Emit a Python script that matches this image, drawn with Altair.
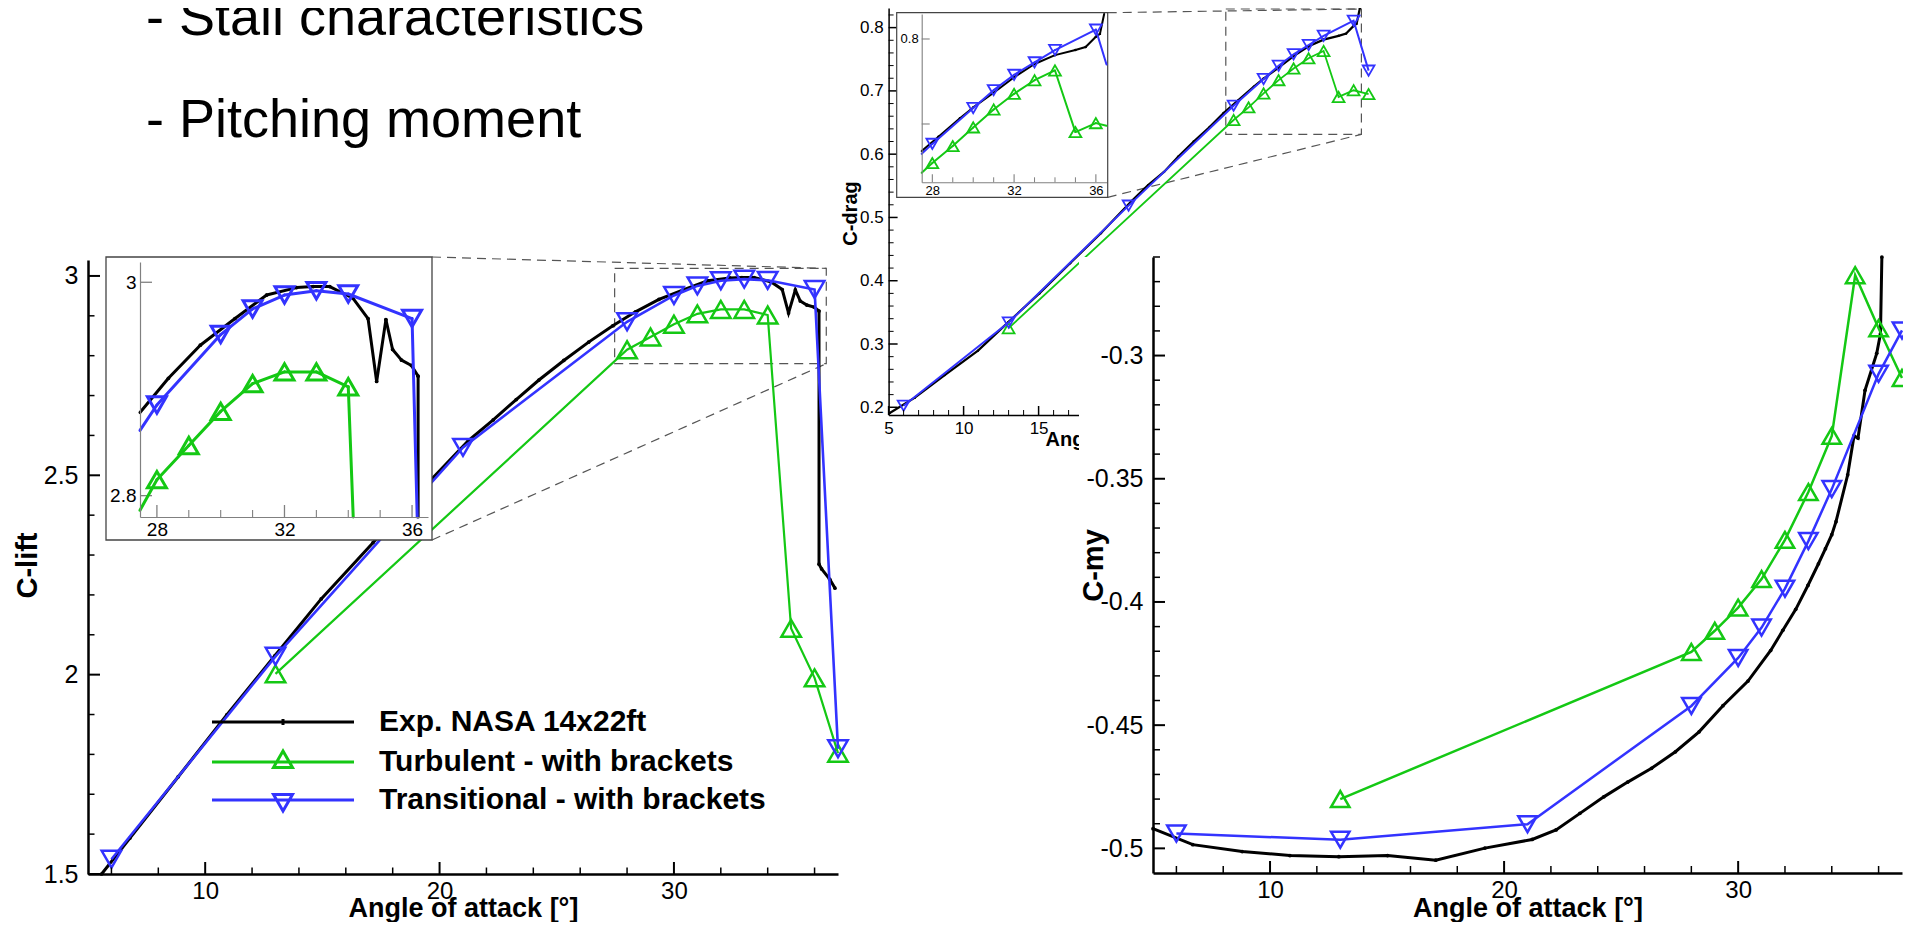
import altair as alt
import pandas as pd

FONT = "Liberation Sans"
SERIES = ["Exp. NASA 14x22ft", "Turbulent - with brackets", "Transitional - with brackets"]
COLORS = ["#000000", "#14c814", "#3333ff"]
LEG_PATHS = [
    "M-7.1,0H7.1M0,-0.3V0.3",
    "M-7.1,0H7.1M0,-1.1L0.95,0.55L-0.95,0.55Z",
    "M-7.1,0H7.1M0,1.1L0.95,-0.55L-0.95,-0.55Z",
]
BULLETS = ["- Stall characteristics", "- Pitching moment"]
X_TITLE = "Angle of attack [°]"

# ---------------- data ----------------
TURB_A = [13, 28, 29, 30, 31, 32, 33, 34, 35, 36, 37]
TRANS_A = [6, 13, 21, 28, 30, 31, 32, 33, 34, 36, 37]

TURB_CL = [2.002, 2.815, 2.847, 2.879, 2.905, 2.916, 2.916, 2.902, 2.116, 1.992, 1.803]
TRANS_CL = [1.537, 2.046, 2.570, 2.885, 2.951, 2.975, 2.988, 2.992, 2.989, 2.966, 1.814]
EXP_CL_A = [5.58, 6.79, 8.85, 10.92, 12.98, 14.95, 17.16, 19.2, 21.23, 22.29, 23.27, 24.24,
            25.30, 26.36, 27.39, 28.36, 29.36, 30.45, 31.44, 32.38, 32.9, 33.42, 34.15, 34.62,
            34.89, 35.18, 35.39, 35.67, 35.98, 36.19, 36.19, 36.3, 36.65, 36.87]
EXP_CL = [1.50, 1.59, 1.744, 1.899, 2.048, 2.19, 2.331, 2.462, 2.587, 2.639, 2.690, 2.739,
          2.788, 2.834, 2.875, 2.910, 2.941, 2.966, 2.988, 2.995, 2.996, 2.996, 2.985, 2.966,
          2.907, 2.965, 2.937, 2.927, 2.922, 2.912, 2.277, 2.265, 2.239, 2.217]

TURB_CD = [0.325, 0.654, 0.674, 0.696, 0.717, 0.7355, 0.7515, 0.763, 0.6905, 0.701, 0.695]
TRANS_CD = [0.2025, 0.334, 0.5187, 0.6766, 0.7187, 0.7398, 0.7578, 0.7725, 0.787, 0.811, 0.732]
EXP_CD_A = [5.05, 6.75, 8.74, 10.96, 13.0, 15.05, 17.1, 19.15, 21.2, 22.3, 23.36, 24.3, 25.34,
            26.4, 27.33, 28.3, 29.35, 30.0, 31.0, 32.0, 33.0, 34.0, 35.0, 35.5, 36.0, 36.2, 36.42]
EXP_CD = [0.1905, 0.2152, 0.251, 0.2895, 0.335, 0.380, 0.4276, 0.475, 0.526, 0.551, 0.572,
          0.596, 0.62, 0.643, 0.665, 0.685, 0.7067, 0.7195, 0.7368, 0.755, 0.7706, 0.781,
          0.787, 0.7905, 0.8027, 0.806, 0.831]

TURB_CM = [-0.480, -0.4203, -0.4117, -0.4023, -0.3907, -0.3748, -0.3554, -0.3326, -0.2674,
           -0.2889, -0.3091]
TRANS_CM = [-0.494, -0.4965, -0.4902, -0.4422, -0.4227, -0.4104, -0.3946, -0.3753, -0.3542,
            -0.3074, -0.2898]
EXP_CM_A = [5.0, 6.70, 8.81, 10.85, 12.94, 15.02, 17.08, 19.18, 21.2, 22.22, 23.24, 24.26,
            25.28, 26.3, 27.32, 28.33, 29.35, 30.42, 31.39, 31.91, 32.46, 32.98, 33.43, 33.73,
            34.0, 34.18, 34.68, 34.95, 35.12, 35.42, 35.92, 36.08, 36.14]
EXP_CM = [-0.492, -0.4985, -0.5013, -0.5029, -0.5034, -0.5029, -0.5048, -0.4999, -0.4964,
          -0.4925, -0.4858, -0.4791, -0.4731, -0.4675, -0.4608, -0.4527, -0.4421, -0.4321,
          -0.4197, -0.4115, -0.403, -0.3933, -0.3845, -0.3784, -0.3727, -0.3674, -0.3484,
          -0.3326, -0.3335, -0.3141, -0.2991, -0.2912, -0.2600]

# ---------------- ticks ----------------
CL_X_MAJOR = [10, 20, 30]
CL_X_MINOR = [6, 8, 12, 14, 16, 18, 22, 24, 26, 28, 32, 34, 36]
CL_Y_MAJOR = [1.5, 2.0, 2.5, 3.0]
CL_Y_MINOR = [1.6, 1.7, 1.8, 1.9, 2.1, 2.2, 2.3, 2.4, 2.6, 2.7, 2.8, 2.9]
INS_X_MAJOR = [28, 32, 36]
INS_X_MINOR = [29, 30, 31, 33, 34, 35]
CLI_Y_MAJOR = [2.8, 3.0]
CD_X_MAJOR = [5, 10, 15]
CD_X_MINOR = [6, 7, 8, 9, 11, 12, 13, 14, 16, 17]
CD_Y_MAJOR = [0.2, 0.3, 0.4, 0.5, 0.6, 0.7, 0.8]
CD_Y_MINOR = [round(0.2 + 0.02 * k, 2) for k in range(1, 32) if k % 5]
CDI_Y_TICKS = [0.7, 0.8]
CDI_Y_LABELS = [0.8]
CM_Y_MAJOR = [-0.5, -0.45, -0.4, -0.35, -0.3]
CM_Y_MINOR = [round(-0.51 + 0.01 * k, 2) for k in range(2, 26) if k % 5 != 1]

# ---------------- layout (page pixels; chart = page - margin) ----------------
M = 8
VW, VH = 1895, 914
P = {
    "cl": dict(xd=[5, 37], yd=[1.5, 3.04], px=[88, 838], py=[874, 260]),
    "cli": dict(xd=[27.47, 36.5], yd=[2.78, 3.019], px=[140, 428], py=[517, 262]),
    "cd": dict(xd=[5, 37.2], yd=[0.1878, 0.831], px=[888.6, 1371.6], py=[415, 8]),
    "cdi": dict(xd=[27.48, 36.52], yd=[0.6314, 0.8294], px=[921.7, 1106.5], py=[182.3, 14]),
    "cm": dict(xd=[5, 37], yd=[-0.51, -0.26], px=[1153, 1902], py=[873, 257]),
}


def xs(k):
    p = P[k]
    return alt.Scale(domain=p["xd"], range=[p["px"][0] - M, p["px"][1] - M], nice=False, zero=False)


def ys(k):
    p = P[k]
    return alt.Scale(domain=p["yd"], range=[p["py"][0] - M, p["py"][1] - M], nice=False, zero=False)


def to_data(k, gx, gy):
    p = P[k]
    a = p["xd"][0] + (gx - p["px"][0]) / (p["px"][1] - p["px"][0]) * (p["xd"][1] - p["xd"][0])
    v = p["yd"][0] + (gy - p["py"][0]) / (p["py"][1] - p["py"][0]) * (p["yd"][1] - p["yd"][0])
    return a, v


def base_axis(values, fs, pad, color, width, z, expr):
    return dict(values=values, ticks=False, grid=False, domainColor=color, domainWidth=width,
                labelFont=FONT, labelFontSize=fs, labelColor="black", labelPadding=pad,
                labelFlush=False, labelOverlap=False, labelExpr=expr, zindex=z)


def ax_x(k, values, fs, pad, color="black", width=2.5, z=0, expr="toString(datum.value)",
         title=None, tfs=29, base_y=None):
    kw = base_axis(values, fs, pad, color, width, z, expr)
    kw.update(orient="bottom", offset=(P[k]["py"][0] - M) - VH)
    if title is None:
        kw["title"] = None
    else:
        kw.update(title=title, titleFont=FONT, titleFontSize=tfs, titleFontWeight="bold",
                  titleColor="black", titleAlign="center", titleAngle=0, titleBaseline="alphabetic",
                  titleX=(P[k]["px"][0] + P[k]["px"][1]) / 2 - M, titleY=base_y - P[k]["py"][0])
    return alt.Axis(**kw)


def ax_y(k, values, fs, pad, color="black", width=2.5, z=0, expr="toString(datum.value)",
         title=None, tfs=29, cx=None, cy=None):
    kw = base_axis(values, fs, pad, color, width, z, expr)
    kw.update(orient="left", offset=-(P[k]["px"][0] - M))
    if title is None:
        kw["title"] = None
    else:
        kw.update(title=title, titleFont=FONT, titleFontSize=tfs, titleFontWeight="bold",
                  titleColor="black", titleAlign="center", titleAngle=270, titleBaseline="middle",
                  titleX=cx - P[k]["px"][0], titleY=cy - M)
    return alt.Axis(**kw)


def sdf(a, v):
    return pd.DataFrame({"a": a, "v": v, "i": list(range(len(a)))})


def enc(k, xa, ya, fx="a", fy="v"):
    return (alt.X(f"{fx}:Q", scale=xs(k), axis=xa), alt.Y(f"{fy}:Q", scale=ys(k), axis=ya))


def curves(k, xa, ya, dfs, lw, tri, sw, dot):
    X, Y = enc(k, xa, ya)
    O = alt.Order("i:Q")
    exp_df, turb_df, trans_df = dfs
    return [
        alt.Chart(exp_df).mark_line(color=COLORS[0], strokeWidth=lw[0]).encode(x=X, y=Y, order=O),
        alt.Chart(exp_df).mark_circle(color=COLORS[0], size=dot, opacity=1).encode(x=X, y=Y),
        alt.Chart(turb_df).mark_line(color=COLORS[1], strokeWidth=lw[1]).encode(x=X, y=Y, order=O),
        alt.Chart(turb_df).mark_point(shape="triangle-up", color=COLORS[1], filled=False, size=tri,
                                      strokeWidth=sw, opacity=1).encode(x=X, y=Y),
        alt.Chart(trans_df).mark_line(color=COLORS[2], strokeWidth=lw[2]).encode(x=X, y=Y, order=O),
        alt.Chart(trans_df).mark_point(shape="triangle-down", color=COLORS[2], filled=False, size=tri,
                                       strokeWidth=sw, opacity=1).encode(x=X, y=Y),
    ]


def clipped_line(df, k, xa, ya, color, width):
    """Polyline drawn as segments, clipped to the inset domain by Vega-Lite transforms."""
    x0, x1 = P[k]["xd"]
    y0, y1 = P[k]["yd"]

    def enter(c, d, lo, hi):
        return (f"datum.{d} > 0 ? ({lo} - datum.{c}) / datum.{d} : datum.{d} < 0 ? ({hi} - datum.{c}) / datum.{d} : "
                f"((datum.{c} >= {lo} && datum.{c} <= {hi}) ? -1 : 2)")

    def leave(c, d, lo, hi):
        return (f"datum.{d} > 0 ? ({hi} - datum.{c}) / datum.{d} : datum.{d} < 0 ? ({lo} - datum.{c}) / datum.{d} : "
                f"((datum.{c} >= {lo} && datum.{c} <= {hi}) ? 2 : -1)")

    X, Y = enc(k, xa, ya, "pa", "pv")
    return (alt.Chart(df)
            .transform_window(a1="lead(a)", v1="lead(v)", sort=[alt.SortField("i")])
            .transform_filter("isValid(datum.a1)")
            .transform_calculate(dx="datum.a1 - datum.a")
            .transform_calculate(dy="datum.v1 - datum.v")
            .transform_calculate(tex=enter("a", "dx", x0, x1))
            .transform_calculate(tey=enter("v", "dy", y0, y1))
            .transform_calculate(tlx=leave("a", "dx", x0, x1))
            .transform_calculate(tly=leave("v", "dy", y0, y1))
            .transform_calculate(te="max(0, datum.tex, datum.tey)")
            .transform_calculate(tl="min(1, datum.tlx, datum.tly)")
            .transform_filter("datum.te < datum.tl")
            .transform_calculate(pa="datum.a + datum.te * datum.dx")
            .transform_calculate(pb="datum.a + datum.tl * datum.dx")
            .transform_calculate(pv="datum.v + datum.te * datum.dy")
            .transform_calculate(pw="datum.v + datum.tl * datum.dy")
            .mark_rule(color=color, strokeWidth=width, strokeCap="round")
            .encode(x=X, x2="pb:Q", y=Y, y2="pw:Q"))


def inset_curves(k, xa, ya, dfs, lw, tri, sw, dot):
    x0, x1 = P[k]["xd"]
    y0, y1 = P[k]["yd"]
    inside = f"datum.a >= {x0} && datum.a <= {x1} && datum.v >= {y0} && datum.v <= {y1}"
    X, Y = enc(k, xa, ya)
    exp_df, turb_df, trans_df = dfs
    return [
        clipped_line(exp_df, k, xa, ya, COLORS[0], lw[0]),
        alt.Chart(exp_df).transform_filter(inside).mark_circle(color=COLORS[0], size=dot, opacity=1).encode(x=X, y=Y),
        clipped_line(turb_df, k, xa, ya, COLORS[1], lw[1]),
        alt.Chart(turb_df).transform_filter(inside).mark_point(
            shape="triangle-up", color=COLORS[1], filled=False, size=tri, strokeWidth=sw, opacity=1).encode(x=X, y=Y),
        clipped_line(trans_df, k, xa, ya, COLORS[2], lw[2]),
        alt.Chart(trans_df).transform_filter(inside).mark_point(
            shape="triangle-down", color=COLORS[2], filled=False, size=tri, strokeWidth=sw, opacity=1).encode(x=X, y=Y),
    ]


def ticks(k, xa, ya, xmaj, xmin, ymaj, ymin, lmaj, lmin, wmaj, wmin, color):
    X = alt.X("v:Q", scale=xs(k), axis=xa)
    Y = alt.Y("v:Q", scale=ys(k), axis=ya)
    hy = P[k]["py"][0] - M
    x0 = P[k]["px"][0] - M
    out = []
    for vals, L, w in ((xmaj, lmaj, wmaj), (xmin, lmin, wmin)):
        if vals:
            out.append(alt.Chart(pd.DataFrame({"v": vals})).mark_rule(color=color, strokeWidth=w)
                       .encode(x=X, y=alt.value(hy), y2=alt.value(hy - L)))
    for vals, L, w in ((ymaj, lmaj, wmaj), (ymin, lmin, wmin)):
        if vals:
            out.append(alt.Chart(pd.DataFrame({"v": vals})).mark_rule(color=color, strokeWidth=w)
                       .encode(y=Y, x=alt.value(x0), x2=alt.value(x0 + L)))
    return out


def box(k, xa, ya, left, top, right, bottom, **mk):
    a0, v0 = to_data(k, left, bottom)
    a1, v1 = to_data(k, right, top)
    df = pd.DataFrame({"a": [a0], "a2": [a1], "v": [v0], "v2": [v1]})
    X, Y = enc(k, xa, ya)
    return alt.Chart(df).mark_rect(**mk).encode(x=X, x2="a2:Q", y=Y, y2="v2:Q")


def zoom_marks(k, kin, xa, ya, frame_corners):
    xd, yd = P[kin]["xd"], P[kin]["yd"]
    X, Y = enc(k, xa, ya)
    rect = alt.Chart(pd.DataFrame({"a": [xd[0]], "a2": [xd[1]], "v": [yd[0]], "v2": [yd[1]]})).mark_rect(
        fillOpacity=0, stroke="#555555", strokeDash=[9, 6], strokeWidth=1.2).encode(
        x=X, x2="a2:Q", y=Y, y2="v2:Q")
    rows = []
    for (gx, gy), (ta, tv) in frame_corners:
        a, v = to_data(k, gx, gy)
        rows.append({"a": a, "v": v, "a2": ta, "v2": tv})
    conn = alt.Chart(pd.DataFrame(rows)).mark_rule(
        color="#555555", strokeDash=[9, 6], strokeWidth=1.2).encode(x=X, x2="a2:Q", y=Y, y2="v2:Q")
    return [rect, conn]


cl_dfs = (sdf(EXP_CL_A, EXP_CL), sdf(TURB_A, TURB_CL), sdf(TRANS_A, TRANS_CL))
cd_dfs = (sdf(EXP_CD_A, EXP_CD), sdf(TURB_A, TURB_CD), sdf(TRANS_A, TRANS_CD))
cm_dfs = (sdf(EXP_CM_A, EXP_CM), sdf(TURB_A, TURB_CM), sdf(TRANS_A, TRANS_CM))

# ---------------- C-lift main ----------------
k = "cl"
xa = ax_x(k, CL_X_MAJOR, 24, 5, title=X_TITLE, tfs=27, base_y=916)
ya = ax_y(k, CL_Y_MAJOR, 25, 10, title="C-lift", tfs=29, cx=27, cy=565)
LEG = alt.Legend(orient="none", legendX=260, legendY=699, title=None, labelFont=FONT,
                 labelFontSize=30, labelFontWeight="bold", labelColor="black", labelLimit=1000,
                 labelOffset=81, rowPadding=8, padding=0, symbolSize=400, symbolStrokeWidth=3)
legend_layer = alt.Chart(pd.DataFrame({"series": SERIES})).transform_filter("false").mark_point(
    filled=False, size=400, strokeWidth=3, opacity=1).encode(
    color=alt.Color("series:N", scale=alt.Scale(domain=SERIES, range=COLORS), legend=LEG),
    shape=alt.Shape("series:N", scale=alt.Scale(domain=SERIES, range=LEG_PATHS), legend=LEG))
panel_cl = alt.layer(*(
    zoom_marks(k, "cli", xa, ya, [((432, 257), (P["cli"]["xd"][1], P["cli"]["yd"][1])),
                                  ((432, 540), (P["cli"]["xd"][1], P["cli"]["yd"][0]))])
    + curves(k, xa, ya, cl_dfs, [3, 2.2, 2.6], 380, 2.5, 14)
    + ticks(k, xa, ya, CL_X_MAJOR, CL_X_MINOR, CL_Y_MAJOR, CL_Y_MINOR, 12, 6.5, 2, 1.5, "black")
    + [legend_layer]))

# ---------------- C-lift inset ----------------
k = "cli"
xa = ax_x(k, INS_X_MAJOR, 19, 3, color="#808080", width=1.2, z=1)
ya = ax_y(k, CLI_Y_MAJOR, 19, 4, color="#808080", width=1.2, z=1)
panel_cli = alt.layer(*(
    [box(k, xa, ya, 106, 257, 432, 540, fill="white", stroke="#444444", strokeWidth=1.3)]
    + ticks(k, xa, ya, INS_X_MAJOR, INS_X_MINOR, CLI_Y_MAJOR, [], 12, 7, 1.3, 1.1, "#808080")
    + inset_curves(k, xa, ya, cl_dfs, [3, 3, 3], 360, 3, 14)))

# ---------------- slide text ----------------
panel_txt = alt.Chart(pd.DataFrame({"t": BULLETS, "row": [0, 1]})).mark_text(
    align="left", baseline="alphabetic", font=FONT, fontSize=54, color="black").encode(
    x=alt.value(138), y=alt.Y("row:Q", scale=alt.Scale(domain=[0, 1], range=[27, 129]), axis=None),
    text="t:N")

# ---------------- C-drag main ----------------
k = "cd"
xa = ax_x(k, CD_X_MAJOR, 17, 5, width=1.5, title=X_TITLE, tfs=20, base_y=445)
ya = ax_y(k, CD_Y_MAJOR, 17, 5.5, width=1.5, title="C-drag", tfs=20, cx=850, cy=213)
panel_cd = alt.layer(*(
    zoom_marks(k, "cdi", xa, ya, [((1107.7, 12.7), (P["cdi"]["xd"][1], P["cdi"]["yd"][1])),
                                  ((1107.7, 197.3), (P["cdi"]["xd"][1], P["cdi"]["yd"][0]))])
    + curves(k, xa, ya, cd_dfs, [2.2, 1.8, 2], 140, 1.8, 6)
    + ticks(k, xa, ya, CD_X_MAJOR, CD_X_MINOR, CD_Y_MAJOR, CD_Y_MINOR, 9, 5, 1.5, 1, "black")))

# ---------------- C-drag inset ----------------
k = "cdi"
xa = ax_x(k, INS_X_MAJOR, 13, 2.5, color="#808080", width=1.1, z=1)
ya = ax_y(k, CDI_Y_LABELS, 13, 3.5, color="#808080", width=1.1, z=1)
panel_cdi = alt.layer(*(
    [box(k, xa, ya, 896.7, 12.7, 1107.7, 197.3, fill="white", stroke="#444444", strokeWidth=1.2)]
    + ticks(k, xa, ya, INS_X_MAJOR, INS_X_MINOR, CDI_Y_TICKS, [], 8, 5, 1.1, 1, "#808080")
    + inset_curves(k, xa, ya, cd_dfs, [2, 2, 2], 140, 1.8, 6)))

# ---------------- C-my ----------------
k = "cm"
xa = ax_x(k, CL_X_MAJOR, 24, 5.5, z=1, title=X_TITLE, tfs=27, base_y=916)
ya = ax_y(k, CM_Y_MAJOR, 25, 10, z=1, title="C-my", tfs=29, cx=1093, cy=565)
panel_cm = alt.layer(*(
    [box(k, xa, ya, 1079, 257, 1911, 930, fill="white", strokeWidth=0)]
    + curves(k, xa, ya, cm_dfs, [3, 2.5, 2.5], 340, 2.5, 14)
    + ticks(k, xa, ya, CL_X_MAJOR, CL_X_MINOR, CM_Y_MAJOR, CM_Y_MINOR, 12, 7, 2, 1.5, "black")))

chart = alt.layer(panel_cl, panel_cli, panel_txt, panel_cd, panel_cdi, panel_cm).resolve_scale(
    x="independent", y="independent").properties(
    width=VW, height=VH, padding=0, background="white",
    autosize=alt.AutoSizeParams(type="none")).configure_view(stroke=None)

chart.save("out.html", embed_options={"renderer": "svg", "actions": False})
